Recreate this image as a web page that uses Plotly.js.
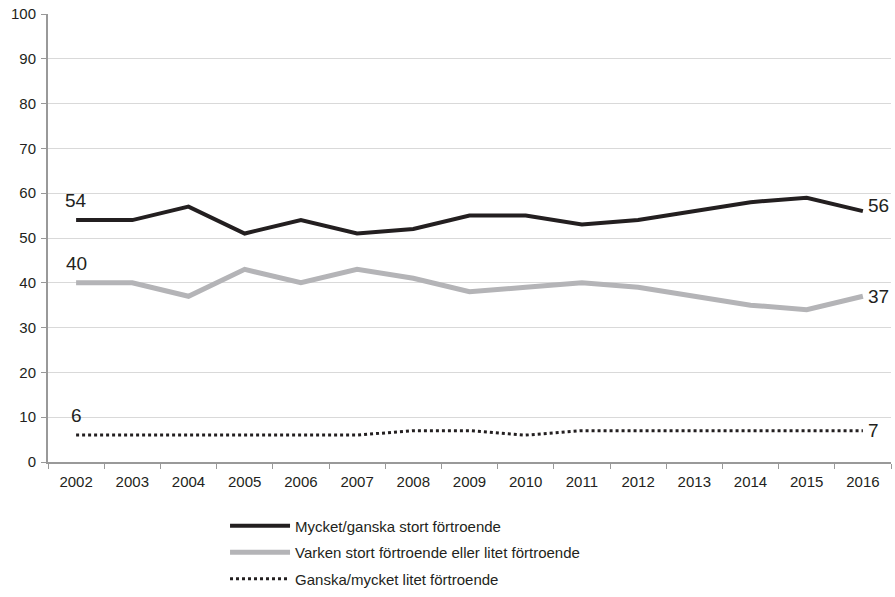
<!DOCTYPE html>
<html><head><meta charset="utf-8">
<script src="https://cdn.plot.ly/plotly-3.0.1.min.js"></script>
<style>html,body{margin:0;padding:0;background:#fff}#chart{width:895px;height:597px}</style>
</head><body><div id="chart"></div>
<script>
const years = ['2002','2003','2004','2005','2006','2007','2008','2009','2010','2011','2012','2013','2014','2015','2016'];
const stort = [54,54,57,51,54,51,52,55,55,53,54,56,58,59,56];
const varken = [40,40,37,43,40,43,41,38,39,40,39,37,35,34,37];
const litet = [6,6,6,6,6,6,7,7,6,7,7,7,7,7,7];
const names = ['Mycket/ganska stort förtroende','Varken stort förtroende eller litet förtroende','Ganska/mycket litet förtroende'];
const yTicks = [0,10,20,30,40,50,60,70,80,90,100];

const fam = 'Liberation Sans, Arial, sans-serif';
const traces = [
  {x: years, y: stort, name: names[0], legendgroup:'a', type:'scatter', mode:'lines', line:{color:'#231f20', width:4}},
  {x: years, y: varken, name: names[1], legendgroup:'b', type:'scatter', mode:'lines', line:{color:'#b4b4b7', width:5}},
  {x: years, y: litet, name: names[2], legendgroup:'c', type:'scatter', mode:'lines', line:{color:'#231f20', width:3, dash:'dot'}}
];
const last = years.length - 1;
const ann = [];
[stort, varken, litet].forEach(function(s, i) {
  ann.push({xref:'x', yref:'y', x: 0, y: s[0], text: String(s[0]), showarrow:false, xanchor:'center', yanchor:'bottom', yshift: 7, font:{size:19, color:'#231f20', family:fam}});
  ann.push({xref:'x', yref:'y', x: last, y: s[last], text: String(s[last]), showarrow:false, xanchor:'left', yanchor:'middle', xshift: 3, yshift: i===0?6:0, font:{size:19, color:'#231f20', family:fam}});
});
const layout = {
  width: 895, height: 597,
  margin: {l:48, r:4, t:14, b:135, autoexpand:false},
  paper_bgcolor:'#fff', plot_bgcolor:'#fff',
  font: {family: fam, size: 15, color:'#231f20'},
  showlegend: true,
  legend: {orientation:'v', x:0.21, xanchor:'left', y:-0.106, yanchor:'top', font:{size:15, family:fam, color:'#231f20'}, itemwidth: 60, tracegroupgap: 4, bgcolor:'rgba(0,0,0,0)'},
  xaxis: {type:'category', automargin:false, tickson:'boundaries', ticks:'outside', ticklen:5, tickcolor:'#999', showline:true, linecolor:'#999', linewidth:2, showgrid:false, tickfont:{size:15}, range:[-0.5, 14.5], ticklabelstandoff: 5},
  yaxis: {range:[0,100], automargin:false, tickvals: yTicks, ticks:'outside', ticklen:5, tickcolor:'#999', showline:true, linecolor:'#999', linewidth:2, gridcolor:'#d9d9d9', gridwidth:1, zeroline:false, tickfont:{size:15}, ticklabelstandoff: 2},
  annotations: ann
};
Plotly.newPlot('chart', traces, layout, {displayModeBar:false});
</script></body></html>
